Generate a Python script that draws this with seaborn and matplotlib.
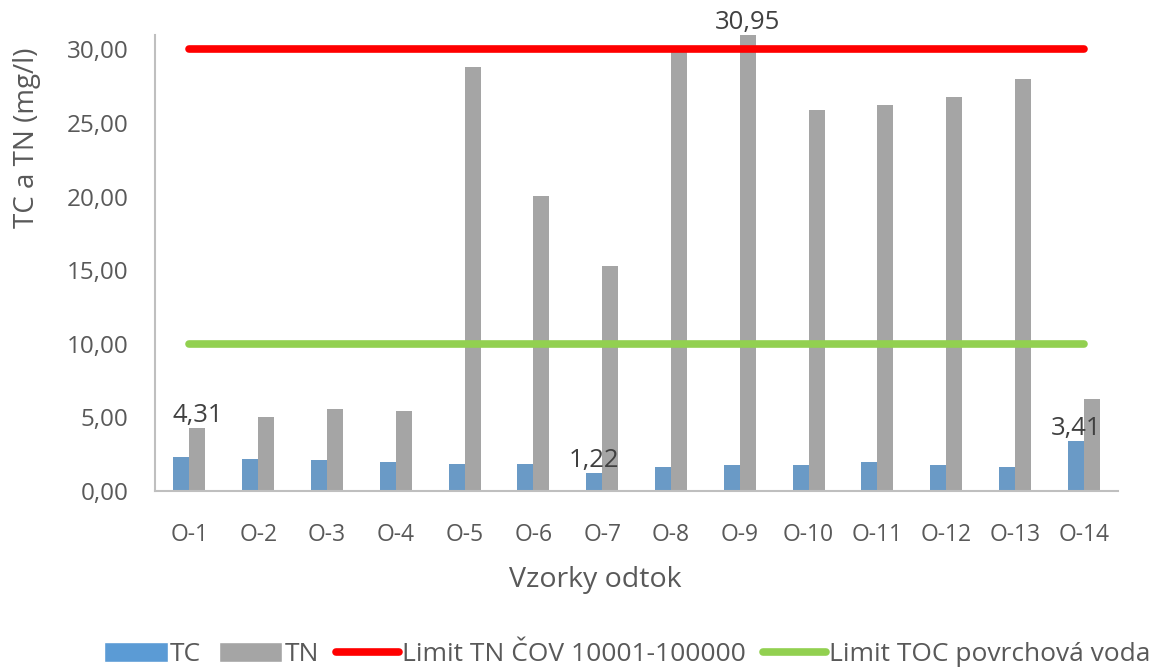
import numpy as np
import pandas as pd
import matplotlib
matplotlib.use("Agg")
import matplotlib.pyplot as plt
from matplotlib.patches import Patch
from matplotlib.lines import Line2D
import seaborn as sns

categories = ["O-1", "O-2", "O-3", "O-4", "O-5", "O-6", "O-7", "O-8", "O-9",
              "O-10", "O-11", "O-12", "O-13", "O-14"]
tc_values = [2.30, 2.18, 2.09, 1.95, 1.82, 1.82, 1.22, 1.61, 1.75, 1.75, 1.98, 1.75, 1.61, 3.41]
tn_values = [4.31, 5.00, 5.57, 5.45, 28.78, 20.04, 15.31, 29.95, 30.95, 25.88, 26.20, 26.77, 28.01, 6.25]
limit_tn = 30.0
limit_toc = 10.0
y_ticks = [0, 5, 10, 15, 20, 25, 30]

series_names = ["TC", "TN"]
colors = {"TC": "#5B9BD5", "TN": "#A5A5A5"}
red = "#FF0000"
green = "#92D050"
text_col = "#595959"

sns.set_theme(style="white")
plt.rcParams["font.family"] = ["Open Sans", "DejaVu Sans"]

df = pd.DataFrame({
    "Vzorka": categories * 2,
    "Séria": ["TC"] * len(categories) + ["TN"] * len(categories),
    "Hodnota": tc_values + tn_values,
})

fig = plt.figure(figsize=(11.66, 6.68), dpi=100)
ax = fig.add_axes([0.133, 0.265, 0.826, 0.682])

sns.barplot(data=df, x="Vzorka", y="Hodnota", hue="Séria", order=categories,
            hue_order=series_names, palette=colors, width=0.465, dodge=True,
            edgecolor="none", linewidth=0, legend=False, ax=ax)

xpos = np.arange(len(categories))
ax.plot(xpos, [limit_tn] * len(categories), color=red, lw=5.5, solid_capstyle="round", zorder=3)
ax.plot(xpos, [limit_toc] * len(categories), color=green, lw=5.5, solid_capstyle="round", zorder=3)

# data labels
def fmt(v):
    return f"{v:.2f}".replace(".", ",")

tc_labels = ["" for _ in categories]
tn_labels = ["" for _ in categories]
tn_labels[0] = fmt(tn_values[0])
tc_labels[6] = fmt(tc_values[6])
tn_labels[8] = fmt(tn_values[8])
tc_labels[13] = fmt(tc_values[13])
ax.bar_label(ax.containers[0], labels=tc_labels, fontsize=18.5, color="#404040", padding=0)
ax.bar_label(ax.containers[1], labels=tn_labels, fontsize=18.5, color="#404040", padding=0)

ax.set_xlim(-0.5, len(categories) - 0.5)
ax.set_ylim(0, 30.95)
ax.set_yticks(y_ticks)
ax.set_yticklabels([fmt(v) for v in y_ticks])
ax.tick_params(axis="both", length=0, labelcolor=text_col)
ax.tick_params(axis="x", pad=23, labelsize=16.5)
ax.tick_params(axis="y", pad=19, labelsize=17.5)

ax.set_xlabel("Vzorky odtok", fontsize=20.5, color=text_col)
ax.set_ylabel("TC a TN (mg/l)", fontsize=20, color=text_col)
ax.xaxis.set_label_coords(0.457, -0.165)
ax.yaxis.set_label_coords(-0.118, 0.775)

for s in ["top", "right"]:
    ax.spines[s].set_visible(False)
for s in ["left", "bottom"]:
    ax.spines[s].set_color("#BFBFBF")
    ax.spines[s].set_linewidth(1.5)
ax.grid(False)

handles = [
    Patch(facecolor=colors["TC"], label="TC"),
    Patch(facecolor=colors["TN"], label="TN"),
    Line2D([0], [0], color=red, lw=5.5, solid_capstyle="round", label="Limit TN ČOV 10001-100000"),
    Line2D([0], [0], color=green, lw=5.5, solid_capstyle="round", label="Limit TOC povrchová voda"),
]
fig.legend(handles=handles, loc="center", bbox_to_anchor=(0.538, 0.02), ncol=4,
           frameon=False, fontsize=19, handlelength=2.4, handleheight=0.8,
           handletextpad=0.1, columnspacing=0.65, labelcolor=text_col)

fig.savefig("out.png", dpi=100)
